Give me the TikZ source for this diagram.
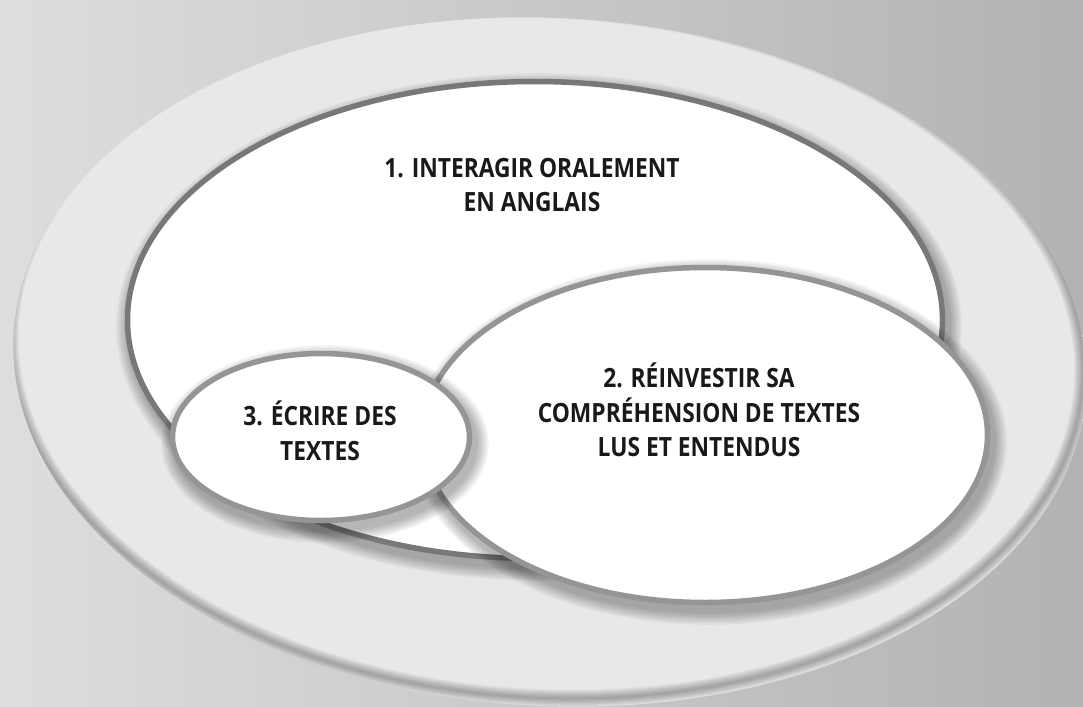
\documentclass[tikz,border=0pt]{standalone}
\usepackage{fontspec}
\setmainfont{Open Sans}
\newfontfamily\labelfont[FakeStretch=0.86]{Open Sans}
\usetikzlibrary{shapes.geometric}

\definecolor{ringdark}{HTML}{787878}
\definecolor{ringlight}{HTML}{959595}
\definecolor{plate}{HTML}{E8E8E8}

\tikzset{
  ring/.style={ellipse, draw=#1, line width=5.5pt, fill=white, inner sep=0pt},
  caption/.style={align=center, text=black!90,
    font=\labelfont\bfseries\fontsize{26.5}{34.5}\selectfont},
}

\begin{document}
\begin{tikzpicture}[x=1pt, y=-1pt]
  \useasboundingbox (0,0) rectangle (1083,706);
  \clip (0,0) rectangle (1083,706);
  % background
  \fill[left color=black!13, right color=black!30] (0,0) rectangle (1083,706);

  % outer plate
  \node[ellipse, fill=plate, inner sep=0pt, rotate=-3,
        minimum width=1074pt, minimum height=688pt] (plate) at (550,362) {};
  \begin{scope}
    \clip[rotate around={-3:(550,362)}] (550,362) ellipse [x radius=537pt, y radius=344pt];
    \foreach \k in {1,...,8}
      \draw[black, opacity=0.04, line width=\k*2.2pt, rotate around={-3:(550,362)}]
        (546,354) ellipse [x radius=537pt, y radius=344pt];
  \end{scope}

  % the three fields
  \foreach \n/\cx/\cy/\rx/\ry/\col in {e1/535/320/410/241/ringdark,
                                      e2/705/435/285/170/ringlight,
                                      e3/321/437/151/86/ringlight} {
    \foreach \k in {1,...,8}
      \fill[black, opacity=0.04] (\cx+4,\cy+7)
        ellipse [x radius={(\rx+\k*1.6)*1pt}, y radius={(\ry+\k*1.6)*1pt}];
    \node[ring=\col, minimum width={(2*\rx-5)*1pt}, minimum height={(2*\ry-5)*1pt}]
      (\n) at (\cx,\cy) {};
  }

  % labels
  \node[caption] (t1) at (532,185) {1. INTERAGIR ORALEMENT\\EN ANGLAIS};
  \node[caption] (t2) at (699,410) {2. RÉINVESTIR SA\\COMPRÉHENSION DE TEXTES\\LUS ET ENTENDUS};
  \node[caption] (t3) at (320,431) {3. ÉCRIRE DES\\TEXTES};
\end{tikzpicture}
\end{document}
